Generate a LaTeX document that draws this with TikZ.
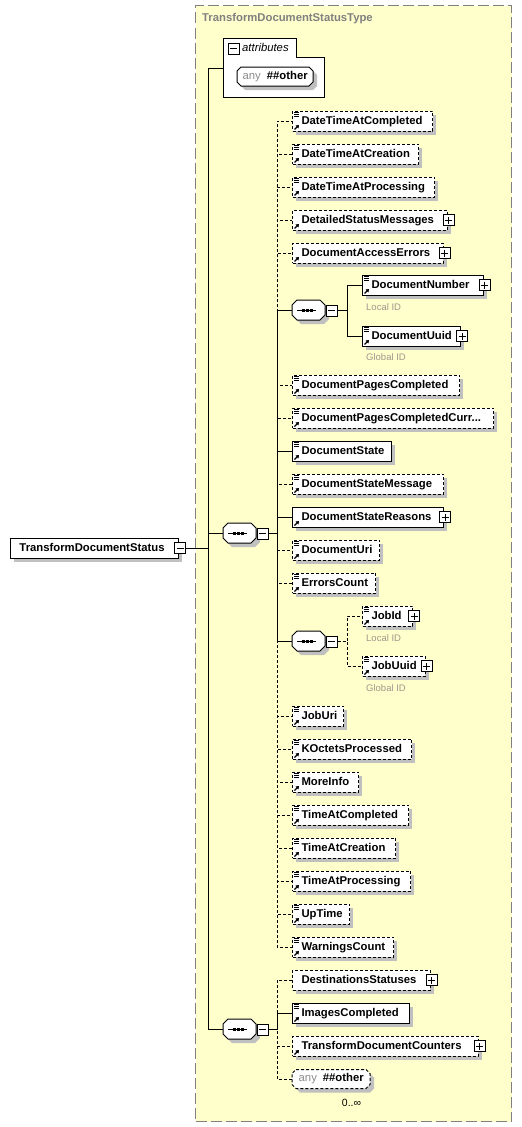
\documentclass[tikz,border=0pt]{standalone}
\usepackage{fontspec}
\setmainfont{Liberation Sans}
\usetikzlibrary{arrows.meta}
\definecolor{bgyellow}{RGB}{255,255,204}
\definecolor{shadowc}{RGB}{192,192,192}
\definecolor{framegray}{RGB}{128,128,128}
\definecolor{titlegray}{RGB}{128,128,128}
\definecolor{idgray}{RGB}{160,150,140}
\definecolor{anygray}{RGB}{140,140,140}
\tikzset{
  elfont/.style={font=\fontsize{11.3}{13}\selectfont\bfseries},
  elbox/.style={draw=black, fill=white, line width=1pt, elfont, inner xsep=9pt, inner ysep=0pt,
    minimum height=20pt, text height=8.5pt, text depth=2.5pt, align=left},
  optbox/.style={elbox, dash pattern=on 3pt off 2pt},
  pm/.style={draw=black, fill=white, line width=1pt, minimum size=11pt, inner sep=0pt},
  conn/.style={line width=1pt, black},
  dconn/.style={conn, dash pattern=on 3pt off 2pt},
  idlabel/.style={anchor=west, inner sep=0pt, text=idgray, font=\fontsize{9.5}{11}\selectfont},
}
\newcommand\elnode[6]{%
  \pgfmathsetmacro\tw{#4-#3-18}%
  \fill[shadowc] (#3+4,#5-6) rectangle (#4+4,#5+14);
  \node[#2, text width=\tw pt, anchor=west] (#1) at (#3,#5) {#6};}
\newcommand\icA[1]{%
  \draw[line width=1.2pt, -{Triangle[length=3pt,width=4pt]}] ([shift={(2.5,-2)}]#1.south west) -- ++(4.5,-4.5);}
\newcommand\icE[1]{%
  \draw[line width=0.9pt] ([shift={(2,2)}]#1.north west) -- ++(5,0)
    ([shift={(2,4)}]#1.north west) -- ++(5,0) ([shift={(2,6)}]#1.north west) -- ++(5,0);
  \icA{#1}}
\newcommand\plusb[1]{%
  \node[pm] (#1p) at ([xshift=1pt]#1.east) {};
  \draw[line width=1pt] ([xshift=-3.5pt]#1p.center) -- ([xshift=3.5pt]#1p.center)
    ([yshift=-3.5pt]#1p.center) -- ([yshift=3.5pt]#1p.center);}
\newcommand\seqg[3]{%
  \begin{scope}[shift={(#2,#3)}]
    \fill[shadowc] (9,-6) -- (32,-6) -- (37,-1) -- (37,9) -- (32,14) -- (9,14) -- (4,9) -- (4,-1) -- cycle;
    \draw[line width=1pt, fill=white] (5,-10) -- (28,-10) -- (33,-5) -- (33,5) -- (28,10) -- (5,10) -- (0,5) -- (0,-5) -- cycle;
    \node[minimum width=33pt, minimum height=20pt, inner sep=0pt, anchor=west] (#1) at (0,0) {};
    \draw[line width=1pt] (5,0) -- (24,0);
    \foreach \sx in {11,15,19.5} \fill (\sx-1.5,-1.5) rectangle (\sx+1.5,1.5);
    \node[pm] (#1m) at (39.5,0.5) {};
    \draw[line width=1pt] ([xshift=-3.5pt]#1m.center) -- ([xshift=3.5pt]#1m.center);
  \end{scope}}
\newcommand\anyb[5]{%
  \begin{scope}[shift={(#2,#4)}]
    \fill[shadowc] (8,-5.5) -- (#3,-5.5) -- (#3+4,-1.5) -- (#3+4,9.5) -- (#3,13.5) -- (8,13.5) -- (4,9.5) -- (4,-1.5) -- cycle;
    \draw[line width=1pt, fill=white, #5] (4,-9.5) -- (#3-4,-9.5) -- (#3,-5.5) -- (#3,5.5) -- (#3-4,9.5) -- (4,9.5) -- (0,5.5) -- (0,-5.5) -- cycle;
    \node[anchor=west, inner sep=0pt, minimum width=#3pt, minimum height=19pt, font=\fontsize{11.3}{13}\selectfont] (#1) at (0,0) {\textcolor{anygray}{any}\hspace{6pt}\textbf{\#\#other}};
  \end{scope}}
\begin{document}
\begin{tikzpicture}[x=1pt,y=-1pt]
\useasboundingbox (0,0) rectangle (522,1127);
% complex type frame
\node[draw=framegray, fill=bgyellow, dash pattern=on 11pt off 4pt, line width=1pt,
  minimum width=316pt, minimum height=1116pt, anchor=north west, inner sep=0pt] (tbox) at (195,5) {};
\node[anchor=west, inner sep=0pt, text=titlegray, font=\fontsize{11.3}{13}\selectfont\bfseries] (title) at (202,19) {TransformDocumentStatusType};
% attributes
\draw[line width=1pt, fill=white] (223,38) -- (296,38) -- (296,57) -- (324,57) -- (324,97) -- (223,97) -- cycle;
\node[pm] (attrm) at (233.5,48.5) {};
\draw[line width=1pt] ([xshift=-3.5pt]attrm.center) -- ([xshift=3.5pt]attrm.center);
\node[anchor=west, inner sep=0pt, font=\fontsize{11.3}{13}\selectfont\itshape] (attr) at (242,47.5) {attributes};
\coordinate (attrin) at (223,68);
\anyb{any1}{237}{76}{76.5}{}
% main element
\elnode{main}{elbox}{10}{178}{548}{TransformDocumentStatus}
\node[pm] (mainm) at ([xshift=1pt]main.east) {};
\draw[line width=1pt] ([xshift=-3.5pt]mainm.center) -- ([xshift=3.5pt]mainm.center);
% sequences
\seqg{s1}{223}{533}
\seqg{s4}{223}{1029}
\seqg{s2}{292}{310}
\seqg{s3}{292}{641}
% connectors from main
\draw[conn] (mainm.east) -| ([xshift=-15pt]attrin) -- (attrin);
\draw[conn] (mainm.east) -| ([xshift=-15pt]s1.west) -- (s1.west);
\draw[conn] (mainm.east) -| ([xshift=-15pt]s4.west) -- (s4.west);
% sequence 1 children
\elnode{dtac}{optbox}{292}{432}{121}{DateTimeAtCompleted}\icE{dtac}
\elnode{dtacr}{optbox}{292}{418}{154}{DateTimeAtCreation}\icE{dtacr}
\elnode{dtap}{optbox}{292}{434}{187}{DateTimeAtProcessing}\icE{dtap}
\elnode{dsm}{optbox}{292}{446.5}{220}{DetailedStatusMessages}\icA{dsm}\plusb{dsm}
\elnode{dae}{optbox}{292}{442.5}{253}{DocumentAccessErrors}\icA{dae}\plusb{dae}
\elnode{dn}{elbox}{362}{482.5}{285}{DocumentNumber}\icE{dn}\plusb{dn}
\elnode{du}{elbox}{362}{460}{336}{DocumentUuid}\icE{du}\plusb{du}
\node[idlabel] (lid1) at (366,307) {Local ID};
\node[idlabel] (gid1) at (366,357) {Global ID};
\elnode{dpc}{optbox}{292}{459}{385}{DocumentPagesCompleted}\icE{dpc}
\elnode{dpcc}{optbox}{292}{493}{418}{DocumentPagesCompletedCurr...}\icE{dpcc}
\elnode{dst}{elbox}{292}{391}{451}{DocumentState}\icE{dst}
\elnode{dsmg}{optbox}{292}{443}{484}{DocumentStateMessage}\icE{dsmg}
\elnode{dsr}{elbox}{292}{443}{517}{DocumentStateReasons}\icA{dsr}\plusb{dsr}
\elnode{duri}{optbox}{292}{379}{550}{DocumentUri}\icE{duri}
\elnode{ec}{optbox}{292}{375}{583}{ErrorsCount}\icE{ec}
\elnode{jid}{optbox}{362}{412}{616}{JobId}\icE{jid}\plusb{jid}
\elnode{juu}{optbox}{362}{424.5}{666}{JobUuid}\icE{juu}\plusb{juu}
\node[idlabel] (lid2) at (366,638) {Local ID};
\node[idlabel] (gid2) at (366,688) {Global ID};
\elnode{juri}{optbox}{292}{343}{716}{JobUri}\icE{juri}
\elnode{kop}{optbox}{292}{411}{749}{KOctetsProcessed}\icE{kop}
\elnode{minf}{optbox}{292}{358}{782}{MoreInfo}\icE{minf}
\elnode{tac}{optbox}{292}{408}{815}{TimeAtCompleted}\icE{tac}
\elnode{tacr}{optbox}{292}{395}{848}{TimeAtCreation}\icE{tacr}
\elnode{tap}{optbox}{292}{410}{881}{TimeAtProcessing}\icE{tap}
\elnode{upt}{optbox}{292}{349}{914}{UpTime}\icE{upt}
\elnode{wc}{optbox}{292}{393}{947}{WarningsCount}\icE{wc}
% sequence 4 children
\elnode{dss}{optbox}{292}{429.5}{980}{DestinationsStatuses}\plusb{dss}
\elnode{imc}{elbox}{292}{409}{1013}{ImagesCompleted}\icE{imc}
\elnode{tdc}{optbox}{292}{477.5}{1046}{TransformDocumentCounters}\icA{tdc}\plusb{tdc}
\anyb{any2}{292}{78}{1079}{dash pattern=on 3pt off 2pt}
\node[inner sep=0pt, font=\fontsize{10.5}{12}\selectfont] (mult) at (351.5,1103) {0..∞};
% connectors of sequence 1
\foreach \c in {dtac,dtacr,dtap,dsm,dae,dpc,dpcc,dsmg,duri,ec,juri,kop,minf,tac,tacr,tap,upt,wc}
  \draw[dconn] (s1m.east) -| ([xshift=-15pt]\c.west) -- (\c.west);
\foreach \c in {s2,s3,dst,dsr}
  \draw[conn] (s1m.east) -| ([xshift=-15pt]\c.west) -- (\c.west);
% sequence 2 and 3
\foreach \c in {dn,du}
  \draw[conn] (s2m.east) -| ([xshift=-15pt]\c.west) -- (\c.west);
\foreach \c in {jid,juu}
  \draw[dconn] (s3m.east) -| ([xshift=-15pt]\c.west) -- (\c.west);
% sequence 4
\foreach \c in {dss,tdc,any2}
  \draw[dconn] (s4m.east) -| ([xshift=-15pt]\c.west) -- (\c.west);
\draw[conn] (s4m.east) -| ([xshift=-15pt]imc.west) -- (imc.west);
\end{tikzpicture}
\end{document}
